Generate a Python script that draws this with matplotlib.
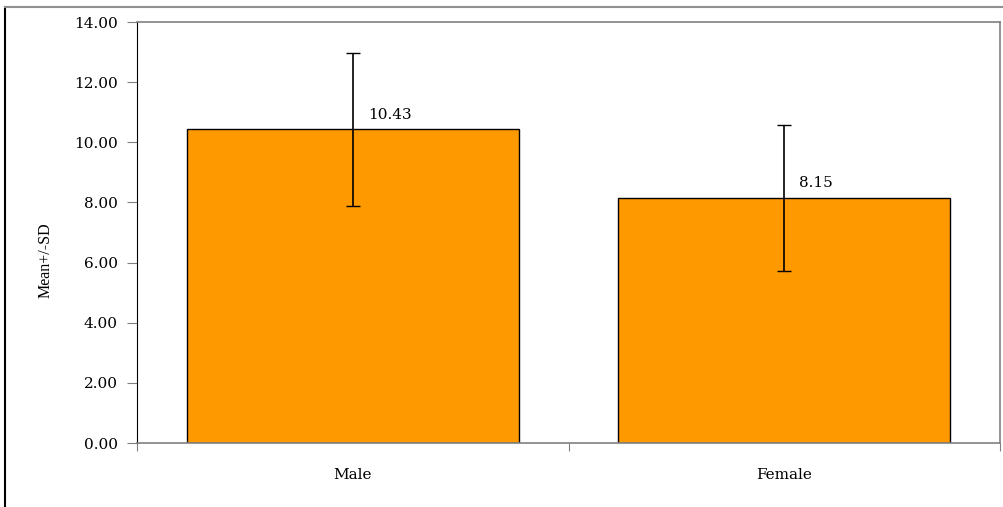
import matplotlib.pyplot as plt
from matplotlib.lines import Line2D

groups = ["Male", "Female"]
means = [10.43, 8.15]
sds = [2.54, 2.42]
yticks = [0, 2, 4, 6, 8, 10, 12, 14]

# wide serif for the numbers and category names, narrow serif for the axis title
wide = ['DejaVu Serif']
narrow = ['Liberation Serif', 'DejaVu Serif']
plt.rcParams['font.family'] = wide

fig = plt.figure(figsize=(10.04, 5.07), dpi=100, facecolor='white')
ax = fig.add_axes([0.1365, 0.1262, 0.8595, 0.8304])

x = list(range(len(groups)))
ax.bar(x, means, width=0.77, color='#FF9900', edgecolor='black', linewidth=1.0, zorder=2)
ax.errorbar(x, means, yerr=sds, fmt='none', ecolor='black', elinewidth=1.2,
            capsize=5, capthick=1.0, zorder=3)

for xi, m in zip(x, means):
    ax.text(xi + 0.035, m + 0.25, f"{m:.2f}", fontsize=11, ha='left', va='bottom', zorder=4)

ax.set_xlim(-0.5, 1.5)
ax.set_ylim(0, 14)
ax.set_yticks(yticks)
ax.set_yticklabels([f"{v:.2f}" for v in yticks], fontsize=11)
ax.set_xticks([-0.5, 0.5, 1.5])
ax.set_xticklabels([])
ax.set_xticks(x, minor=True)
ax.set_xticklabels(groups, minor=True, fontsize=11)
ax.tick_params(axis='x', which='minor', length=0, pad=18)
ax.tick_params(axis='x', which='major', length=6, color='#808080', direction='out')
ax.tick_params(axis='y', length=7, color='#808080', direction='out', pad=7)

ax.spines['left'].set_color('black')
for s in ['top', 'right', 'bottom']:
    ax.spines[s].set_color('#808080')
    ax.spines[s].set_linewidth(1.2)

ax.set_ylabel("Mean+/-SD", fontsize=11.5, family=narrow)
ax.yaxis.set_label_coords(-0.097, 0.435)

# outer frame of the figure
fig.add_artist(Line2D([0.0045, 0.0045], [0, 0.986], transform=fig.transFigure, color='black', lw=1.5))
fig.add_artist(Line2D([0.0045, 1], [0.986, 0.986], transform=fig.transFigure, color='#909090', lw=1.5))

fig.savefig("out.png", dpi=100)
